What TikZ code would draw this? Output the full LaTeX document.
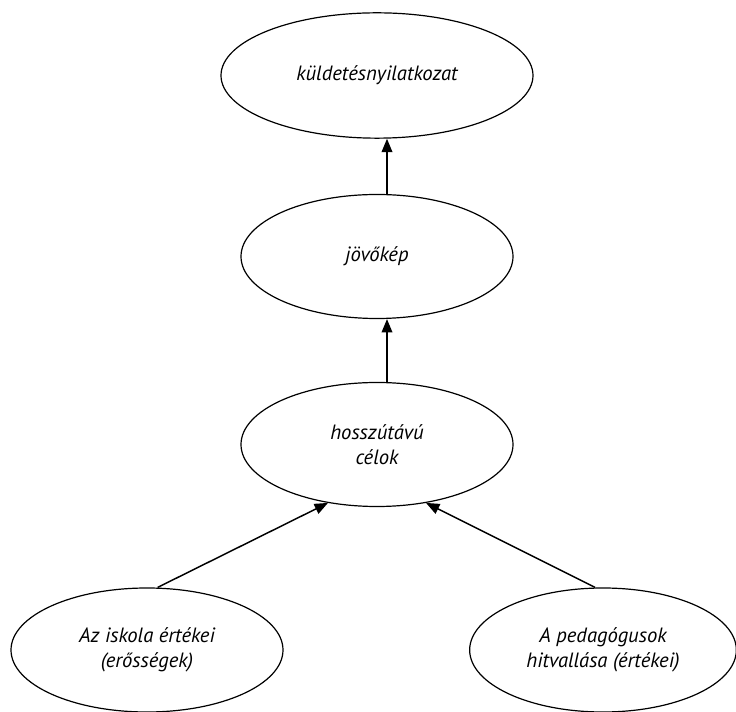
\documentclass[tikz,border=0pt]{standalone}
\usepackage{fontspec}
\setmainfont{PT Sans}
\usetikzlibrary{arrows.meta,shapes.geometric}

\begin{document}
\begin{tikzpicture}[x=0.75pt,y=0.75pt,>={Triangle[length=10pt,width=8pt]},
  font=\fontsize{15.5}{19}\selectfont\itshape,
  oval/.style={ellipse,draw,line width=0.9pt,inner sep=0pt,minimum width=204pt,minimum height=93pt,align=center},
  link/.style={->,line width=1.1pt}]
\useasboundingbox (0,0) rectangle (736,711);
\node[oval,minimum width=234pt,minimum height=94pt] (kuld) at (377,635.5){küldetésnyilatkozat};
\node[oval] (jovo) at (377,454.5){jövőkép};
\node[oval] (celok) at (377,266.5){hosszútávú\\célok};
\node[oval] (iskola) at (147,61){Az iskola értékei\\(erősségek)};
\node[oval,minimum width=200pt] (pedag) at (603,61){A pedagógusok\\hitvallása (értékei)};
\draw[link] ([xshift=7.5pt]jovo.north) -- ([xshift=7.5pt]kuld.south);
\draw[link] ([xshift=7.5pt]celok.north) -- ([xshift=7.5pt]jovo.south);
\draw[link] ([xshift=8pt]iskola.north) -- (celok.230);
\draw[link] ([xshift=-6pt]pedag.north) -- (celok.310);
\end{tikzpicture}
\end{document}
